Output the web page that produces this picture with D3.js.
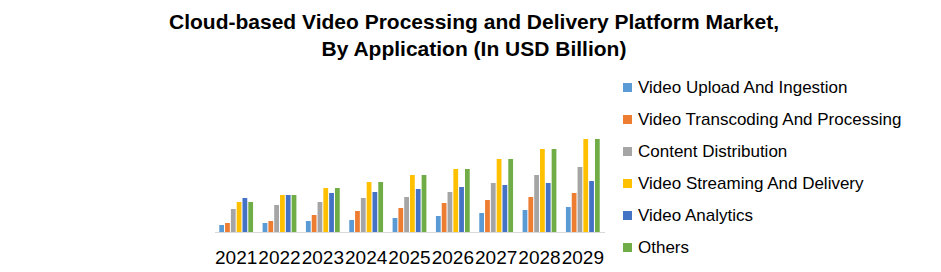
<!DOCTYPE html>
<html>
<head>
<meta charset="utf-8">
<script src="https://cdn.jsdelivr.net/npm/d3@7"></script>
<style>
  body { margin: 0; background: #fff; }
  text { font-family: "Liberation Sans", Arial, sans-serif; fill: #000; }
</style>
</head>
<body>
<div id="chart"></div>
<script>
var width = 941, height = 272

var years = ["2021", "2022", "2023", "2024", "2025", "2026", "2027", "2028", "2029"]
var seriesNames = ["Video Upload And Ingestion", "Video Transcoding And Processing", "Content Distribution",
    "Video Streaming And Delivery", "Video Analytics", "Others"]
var colors = ["#5b9bd5", "#ed7d31", "#a5a5a5", "#ffc000", "#4472c4", "#70ad47"]

// values (no axis shown, USD billion estimates)
var uploadVals = [0.7, 0.9, 1.1, 1.2, 1.4, 1.6, 1.9, 2.2, 2.5]
var transcodeVals = [0.9, 1.1, 1.7, 2.1, 2.4, 2.9, 3.2, 3.5, 3.9]
var distributionVals = [2.3, 2.7, 3.0, 3.4, 3.5, 4.0, 4.9, 5.7, 6.5]
var streamingVals = [3.0, 3.7, 4.4, 5.0, 5.7, 6.3, 7.3, 8.3, 9.3]
var analyticsVals = [3.4, 3.7, 3.9, 4.0, 4.3, 4.5, 4.7, 4.9, 5.1]
var othersVals = [3.0, 3.7, 4.4, 5.0, 5.7, 6.3, 7.3, 8.3, 9.3]
var allSeries = [uploadVals, transcodeVals, distributionVals, streamingVals, analyticsVals, othersVals]

const plot = {left: 214.5, right: 604.5, top: 77, bottom: 232}

var svg = d3.select("#chart")
    .append("svg")
    .attr("width", width)
    .attr("height", height)
    .attr("display", "block")

var xScale = d3.scaleBand()
    .domain(years)
    .range([plot.left, plot.right])
    .paddingInner(0.22)
    .paddingOuter(0.11)

var subScale = d3.scaleBand()
    .domain(d3.range(seriesNames.length))
    .range([0, xScale.bandwidth()])
    .paddingInner(0.18)

var yScale = d3.scaleLinear()
    .domain([0, 15.5])
    .range([plot.bottom, plot.top])

// title
var title = svg.append("text")
    .attr("x", 474)
    .attr("text-anchor", "middle")
    .style("font-weight", "bold")
    .style("font-size", "21px")
title.append("tspan").attr("x", 474).attr("y", 29)
    .text("Cloud-based Video Processing and Delivery Platform Market,")
title.append("tspan").attr("x", 474).attr("y", 56)
    .text("By Application (In USD Billion)")

// bars
var groups = svg.selectAll(".year")
    .data(years)
    .enter()
    .append("g")
    .attr("class", "year")
    .attr("transform", function(y) { return "translate(" + xScale(y) + ",0)" })

groups.selectAll("rect")
    .data(function(y, i) { return allSeries.map(function(s, k) { return {k: k, v: s[i]} }) })
    .enter()
    .append("rect")
    .attr("x", function(d) { return subScale(d.k) })
    .attr("y", function(d) { return yScale(d.v) })
    .attr("width", subScale.bandwidth())
    .attr("height", function(d) { return plot.bottom - yScale(d.v) })
    .attr("fill", function(d) { return colors[d.k] })

// baseline + category labels
var xAxis = d3.axisBottom(xScale).tickSize(0).tickPadding(19)
var xg = svg.append("g")
    .attr("transform", "translate(0," + plot.bottom + ")")
    .call(xAxis)
xg.select(".domain").attr("stroke", "#d9d9d9").attr("stroke-width", 1)
xg.selectAll("text")
    .style("font-size", "19px")
    .style("font-family", "'Liberation Sans', Arial, sans-serif")
    .attr("fill", "#000")

// legend
var legend = svg.selectAll(".legend")
    .data(seriesNames)
    .enter()
    .append("g")
    .attr("class", "legend")
    .attr("transform", function(d, i) { return "translate(623," + (88 + i * 32) + ")" })
legend.append("rect")
    .attr("x", 0)
    .attr("y", -5)
    .attr("width", 9)
    .attr("height", 9)
    .attr("fill", function(d, i) { return colors[i] })
legend.append("text")
    .attr("x", 15)
    .attr("y", 1)
    .attr("dominant-baseline", "middle")
    .style("font-size", "17px")
    .text(function(d) { return d })
</script>
</body>
</html>
